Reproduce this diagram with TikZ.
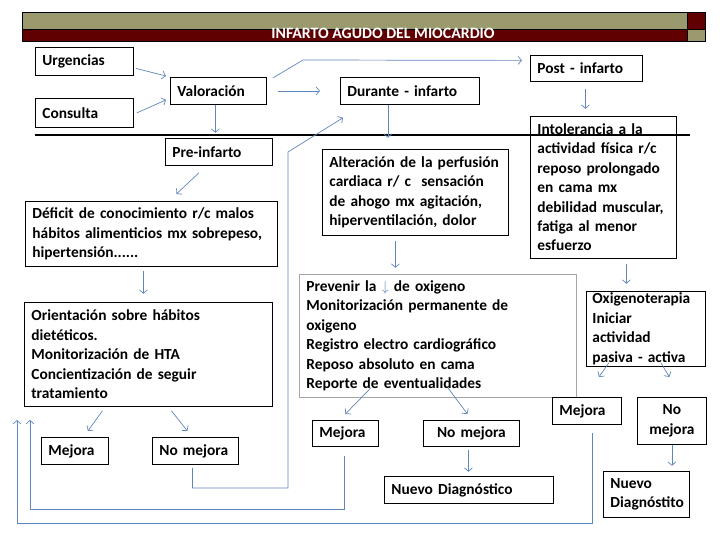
\documentclass[tikz,border=0pt]{standalone}
\usepackage{fontspec}
\setmainfont{Carlito}
\usetikzlibrary{arrows.meta}
\definecolor{barolive}{RGB}{155,153,110}
\definecolor{bardark}{RGB}{96,0,0}
\definecolor{linkblue}{RGB}{96,134,188}
\tikzset{
  box/.style={draw, line width=0.8pt, anchor=north west, inner xsep=7pt, inner ysep=1pt,
    align=left, font=\bfseries\fontsize{15.4}{19.4}\selectfont},
  conn/.style={->, draw=linkblue, line width=0.7pt},
  >={Straight Barb[length=3.5pt,width=8pt]},
}
\begin{document}
\begin{tikzpicture}[x=1pt, y=-1pt]
  \useasboundingbox (0,0) rectangle (720,540);
  % title bar
  \filldraw[fill=barolive, line width=0.9pt] (22,12) rectangle (687,29);
  \filldraw[fill=bardark, line width=0.9pt] (22,29) rectangle (687,41);
  \filldraw[fill=bardark, line width=0.9pt] (687,12) rectangle (705,29);
  \filldraw[fill=barolive, line width=0.9pt] (687,29) rectangle (705,41);
  \node[anchor=base, text=white, font=\bfseries\fontsize{15.8}{18}\selectfont] (title) at (383,39) {INFARTO AGUDO DEL MIOCARDIO};
  \draw[line width=1.4pt] (35,135) -- (690,135);
  % boxes
  \node[box, text width=84pt, minimum height=28pt] (urg) at (35,47) {Urgencias};
  \node[box, text width=84pt, minimum height=29pt] (con) at (35,98) {Consulta};
  \node[box, text width=82pt, minimum height=27pt] (val) at (170,77) {Valoración};
  \node[box, text width=125pt, minimum height=27pt] (dur) at (340,77) {Durante - infarto};
  \node[box, text width=98pt, minimum height=26pt] (post) at (530,55) {Post - infarto};
  \node[box, text width=132pt, minimum height=142pt] (into) at (530,116) {Intolerancia a la\\actividad física r/c\\reposo prolongado\\en cama mx\\debilidad muscular,\\fatiga al menor\\esfuerzo};
  \node[box, text width=93pt, minimum height=27pt] (pre) at (165,138) {Pre-infarto};
  \node[box, text width=238pt, minimum height=65pt] (def) at (25,201) {Déficit de conocimiento r/c malos\\hábitos alimenticios mx sobrepeso,\\hipertensión......};
  \node[box, text width=172pt, minimum height=86pt] (alt) at (322,149) {Alteración de la perfusión\\cardiaca r/ c\ \ sensación\\de ahogo mx agitación,\\hiperventilación, dolor};
  \node[box, draw=gray!70, text width=263pt, minimum height=123pt] (prev) at (299,274) {Prevenir la \textcolor{linkblue}{$\downarrow$} de oxigeno\\Monitorización permanente de\\oxigeno\\Registro electro cardiográfico\\Reposo absoluto en cama\\Reporte de eventualidades};
  \node[box, text width=234pt, minimum height=104pt] (ori) at (24,302) {Orientación sobre hábitos\\dietéticos.\\Monitorización de HTA\\Concientización de seguir\\tratamiento};
  \node[box, text width=53pt, minimum height=27pt] (ml) at (41,437) {Mejora};
  \node[box, text width=72pt, minimum height=27pt] (nml) at (152,437) {No mejora};
  \node[box, text width=52pt, minimum height=26pt] (mm) at (312,420) {Mejora};
  \node[box, align=center, text width=82pt, minimum height=26pt] (nmm) at (423,420) {No mejora};
  \node[box, text width=155pt, minimum height=27pt] (nd) at (384,476) {Nuevo Diagnóstico};
  \node[box, inner xsep=6pt, text width=107pt, minimum height=75pt] (oxi) at (586,291) {Oxigenoterapia\\Iniciar\\actividad\\pasiva - activa};
  \node[box, text width=55pt, minimum height=27pt] (mr) at (552,397) {Mejora};
  \node[box, align=center, text width=55pt, minimum height=47pt] (nmr) at (637,397) {No\\mejora};
  \node[box, text width=72pt, minimum height=46pt] (ndr) at (603,471) {Nuevo\\Diagnóstito};
  \coordinate (retA) at (30,420);
  \coordinate (retB) at (17,420);
  % connectors
  \draw[conn] ([xshift=2pt,yshift=-7pt]urg.east) -- ([xshift=-4pt,yshift=1pt]val.north west);
  \draw[conn] ([xshift=3pt]con.east) -- ([xshift=-4pt,yshift=-9pt]val.west);
  \draw[conn] ([xshift=11pt]val.east) -- ([xshift=-20pt]dur.west);
  \draw[conn] ([xshift=6pt,yshift=-1pt]val.north east) -- (303,60) -- ([xshift=-8pt,yshift=8pt]post.west);
  \draw[conn] ([xshift=-3pt]val.south) -- ++(0,28);
  \draw[conn] ([xshift=-20pt,yshift=-7pt]pre.south) -- ([xshift=25pt,yshift=7pt]def.north);
  \draw[conn] ([xshift=-8pt,yshift=-4pt]def.south) -- ++(0,23);
  \draw[conn] ([xshift=-46pt,yshift=-4pt]ori.south) -- ([xshift=13pt,yshift=6pt]ml.north);
  \draw[conn] ([xshift=23pt,yshift=-4pt]ori.south) -- ([xshift=-8pt,yshift=6pt]nml.north);
  \draw[conn] ([xshift=-3pt,yshift=-3pt]nml.south) |- (288,488) -- (288,152) -- ([xshift=3pt,yshift=-13pt]dur.south west);
  \draw[conn] ([xshift=-22pt]dur.south) -- ++(0,33);
  \draw[conn] ([xshift=-1pt,yshift=-7pt]post.south) -- ++(0,20);
  \draw[conn] ([xshift=-20pt,yshift=-5pt]alt.south) -- ++(0,27);
  \draw[conn] ([xshift=23pt,yshift=-5pt]into.south) -- ++(0,20);
  \draw[conn] ([xshift=-67pt,yshift=10pt]prev.south) -- ([yshift=6pt]mm.north);
  \draw[conn] ([xshift=10pt,yshift=10pt]prev.south) -- ([xshift=-4pt,yshift=6pt]nmm.north);
  \draw[conn] ([xshift=-3pt,yshift=-3pt]nmm.south) -- ++(0,22);
  \draw[conn] ([xshift=-1pt,yshift=-9pt]mm.south) |- (30,509) -- (retA);
  \draw[conn] ([xshift=-37pt,yshift=4pt]oxi.south) -- ([xshift=12pt,yshift=20pt]mr.north);
  \draw[conn] ([xshift=15pt,yshift=4pt]oxi.south) -- ([xshift=-2.5pt,yshift=20pt]nmr.north);
  \draw[conn] (nmr.south) -- ++(0,21);
  \draw[conn] ([xshift=5.5pt,yshift=-8pt]mr.south) |- (17,523) -- (retB);
\end{tikzpicture}
\end{document}
